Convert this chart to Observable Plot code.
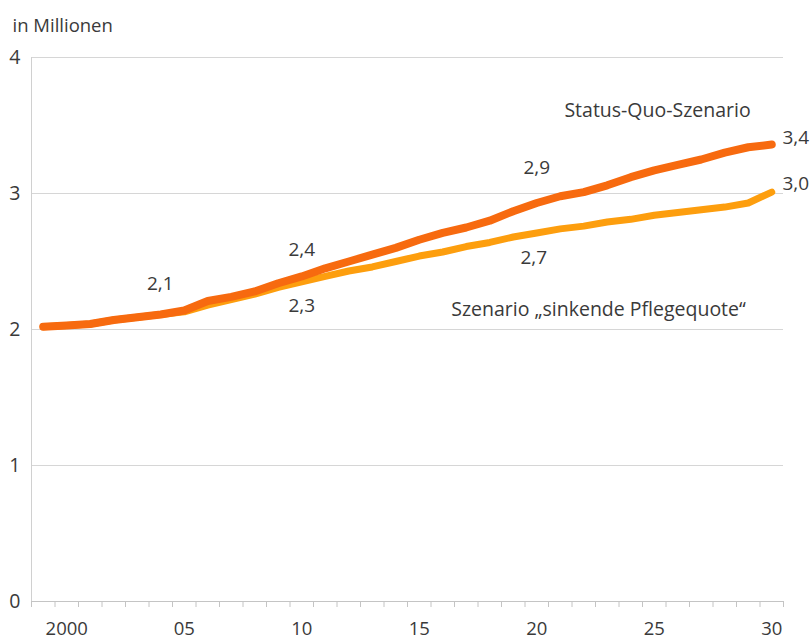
<!DOCTYPE html>
<html><head><meta charset="utf-8">
<script src="https://cdn.jsdelivr.net/npm/d3@7"></script>
<script src="https://cdn.jsdelivr.net/npm/@observablehq/plot@0.6"></script>
<style>body{margin:0;background:#fff}svg{display:block}</style>
</head><body><div id="chart"></div>
<script>
const years = [1999,2000,2001,2002,2003,2004,2005,2006,2007,2008,2009,2010,2011,2012,2013,2014,2015,2016,2017,2018,2019,2020,2021,2022,2023,2024,2025,2026,2027,2028,2029,2030];
const statusQuo = [2.02,2.03,2.04,2.07,2.09,2.11,2.14,2.21,2.24,2.28,2.34,2.39,2.45,2.50,2.55,2.60,2.66,2.71,2.75,2.80,2.87,2.93,2.98,3.01,3.06,3.12,3.17,3.21,3.25,3.30,3.34,3.36];
const sinkend = [2.02,2.03,2.04,2.07,2.09,2.11,2.13,2.18,2.22,2.26,2.31,2.35,2.39,2.43,2.46,2.50,2.54,2.57,2.61,2.64,2.68,2.71,2.74,2.76,2.79,2.81,2.84,2.86,2.88,2.90,2.93,3.01];
const xTickYears = [2000,2005,2010,2015,2020,2025,2030];
const xTickLabels = ["2000","05","10","15","20","25","30"];
const yTicks = [0,1,2,3,4];
const statusLabelYears = [2005,2010,2020,2030];
const statusLabels = ["2,1","2,4","2,9","3,4"];
const sinkLabelYears = [2010,2020,2030];
const sinkLabels = ["2,3","2,7","3,0"];
const seriesNames = ["Status-Quo-Szenario","Szenario \u201Esinkende Pflegequote\u201C"];
const unitLabel = "in Millionen";

const sq = years.map((y,i)=>({year:y, value:statusQuo[i]}));
const sk = years.map((y,i)=>({year:y, value:sinkend[i]}));
const sqLab = statusLabelYears.map((y,i)=>({year:y, value:statusQuo[years.indexOf(y)], text:statusLabels[i]}));
const skLab = sinkLabelYears.map((y,i)=>({year:y, value:sinkend[years.indexOf(y)], text:sinkLabels[i]}));
const sqOff = {2005:[-24,-27],2010:[0,-27],2020:[0,-35],2030:[24,-7]};
const skOff = {2010:[0,24],2020:[-3,25],2030:[24,-8]};
const minorTicks = d3.range(years[0]-0.5, years[years.length-1]+1, 1);

const DARK = "#f76a0f", LIGHT = "#fd9e0e", TXT = "#3a3a3a";
const font = "'Open Sans', sans-serif";

const chart = Plot.plot({
  width: 811, height: 639,
  marginLeft: 31, marginRight: 28, marginTop: 57, marginBottom: 38,
  x: {domain: [years[0]-0.5, years[years.length-1]+0.5]},
  y: {domain: [0, 4]},
  style: {fontFamily: font, color: TXT, background: "#fff"},
  marks: [
    Plot.ruleY([1,2,3,4], {stroke: "#d6d6d6", strokeWidth: 1}),
    Plot.ruleX([years[0]-0.5], {stroke: "#d0d0d0", strokeWidth: 1}),
    Plot.ruleY([0], {stroke: "#c4c4c4", strokeWidth: 1}),
    Plot.axisX({ticks: minorTicks, tickSize: 6, tickFormat: () => "", stroke: "#c4c4c4", label: null}),
    Plot.axisX({ticks: xTickYears, tickSize: 0, tickPadding: 20, fontSize: 18.5,
      tickFormat: d => xTickLabels[xTickYears.indexOf(d)], label: null}),
    Plot.axisY({ticks: yTicks, tickSize: 0, tickPadding: 11, fontSize: 19.5, tickFormat: d => String(d), label: null}),
    Plot.line(sk, {x: "year", y: "value", stroke: LIGHT, strokeWidth: 7, strokeLinecap: "round", strokeLinejoin: "round"}),
    Plot.line(sq, {x: "year", y: "value", stroke: DARK, strokeWidth: 8, strokeLinecap: "round", strokeLinejoin: "round"}),
    ...sqLab.map(d => Plot.text([d], {x: "year", y: "value", text: "text", dx: sqOff[d.year][0], dy: sqOff[d.year][1], fontSize: 19, fill: TXT})),
    ...skLab.map(d => Plot.text([d], {x: "year", y: "value", text: "text", dx: skOff[d.year][0], dy: skOff[d.year][1], fontSize: 19, fill: TXT})),
    Plot.text([seriesNames[0]], {x: 2025.14, y: 3.61, text: d => d, fontSize: 19.5, fill: TXT}),
    Plot.text([seriesNames[1]], {x: 2022.63, y: 2.147, text: d => d, fontSize: 19.5, fill: TXT}),
    Plot.text([unitLabel], {frameAnchor: "top-left", dx: -19, dy: -31, lineAnchor: "middle", textAnchor: "start", fontSize: 18.5, fill: TXT})
  ]
});
document.getElementById("chart").append(chart);
</script>
</body></html>
